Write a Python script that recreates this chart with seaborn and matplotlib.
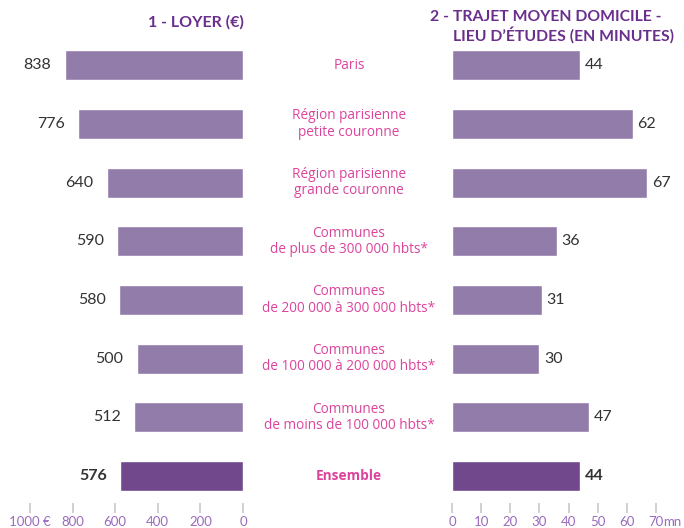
import matplotlib
matplotlib.use("Agg")
import matplotlib.pyplot as plt
import matplotlib.transforms as mtransforms
import pandas as pd
import seaborn as sns

categories = [
    "Paris",
    "Région parisienne\npetite couronne",
    "Région parisienne\ngrande couronne",
    "Communes\nde plus de 300 000 hbts*",
    "Communes\nde 200 000 à 300 000 hbts*",
    "Communes\nde 100 000 à 200 000 hbts*",
    "Communes\nde moins de 100 000 hbts*",
    "Ensemble",
]
loyer = [838, 776, 640, 590, 580, 500, 512, 576]
trajet = [44, 62, 67, 36, 31, 30, 47, 44]
loyer_ticks = [1000, 800, 600, 400, 200, 0]
loyer_ticklabels = ["1000 €", "800", "600", "400", "200", "0"]
trajet_ticks = [0, 10, 20, 30, 40, 50, 60, 70]
trajet_ticklabels = ["0", "10", "20", "30", "40", "50", "60", "70"]

df = pd.DataFrame({"cat": categories, "loyer": loyer, "trajet": trajet})

sns.set_theme(style="white")
plt.rcParams["font.family"] = ["Lato", "DejaVu Sans"]

bar_c = "#9175b2"
total_c = "#733c98"
title_c = "#6a2e8c"
cat_c = "#dc449c"
tick_c = "#9a6cbc"
num_c = "#333333"
palette = [bar_c] * 7 + [total_c]

fig = plt.figure(figsize=(6.84, 5.28), dpi=100)
W, H = 684, 528
top_px, bot_px = 36, 503
bottom = 1 - bot_px / H
height = (bot_px - top_px) / H
ax1 = fig.add_axes([30 / W, bottom, 213 / W, height])
ax2 = fig.add_axes([452 / W, bottom, 204 / W, height])

sns.barplot(data=df, x="loyer", y="cat", hue="cat", palette=palette,
            legend=False, orient="h", width=0.51, ax=ax1)
sns.barplot(data=df, x="trajet", y="cat", hue="cat", palette=palette,
            legend=False, orient="h", width=0.51, ax=ax2)

ax1.set_xlim(1000, 0)
ax2.set_xlim(0, 70)
for ax, ticks, labels in [(ax1, loyer_ticks, loyer_ticklabels),
                          (ax2, trajet_ticks, trajet_ticklabels)]:
    ax.set_ylim(7.46, -0.5)
    ax.set_xticks(ticks)
    ax.set_xticklabels(labels)
    ax.set_yticks([])
    ax.set_xlabel("")
    ax.set_ylabel("")
    sns.despine(ax=ax, left=True, bottom=True)
    ax.tick_params(axis="x", bottom=True, direction="out", length=7.5, width=1.2,
                   color="#c8c8c8", labelcolor=tick_c, labelsize=9.5, pad=1.5)
    for t in ax.xaxis.get_major_ticks():
        if t.get_loc() == 0:
            t.tick1line.set_color("#111111")

# "mn" unit after the last tick label of the right axis
ax2.annotate("mn", xy=(70, 0), xycoords=("data", "axes fraction"),
             xytext=(5.3, -9), textcoords="offset points", ha="left", va="top",
             fontsize=9.5, color=tick_c, annotation_clip=False)

# value labels
for i, v in enumerate(loyer):
    bold = i == len(loyer) - 1
    ax1.text(v + 62, i, str(v), ha="right", va="center", fontsize=11.5,
             color=num_c, fontweight="bold" if bold else "normal")
for i, v in enumerate(trajet):
    bold = i == len(trajet) - 1
    ax2.text(v + 1.5, i, str(v), ha="left", va="center", fontsize=11.5,
             color=num_c, fontweight="bold" if bold else "normal")

# category labels in the middle
trans = mtransforms.blended_transform_factory(fig.transFigure, ax1.transData)
for i, c in enumerate(categories):
    bold = i == len(categories) - 1
    ax1.text(349 / W, i, c, transform=trans, ha="center", va="center",
             fontsize=9.8, color=cat_c, linespacing=1.1,
             family=["Open Sans", "DejaVu Sans"],
             fontweight="bold" if bold else "normal")

fig.text(244 / W, 1 - 22 / H, "1 - LOYER (€)", ha="right", va="center",
         fontsize=11.5, fontweight="bold", color=title_c)
fig.text(430 / W, 1 - 17 / H, "2 - TRAJET MOYEN DOMICILE -", ha="left",
         va="center", fontsize=11.3, fontweight="bold", color=title_c)
fig.text(453 / W, 1 - 35 / H, "LIEU D’ÉTUDES (EN MINUTES)", ha="left",
         va="center", fontsize=11.3, fontweight="bold", color=title_c)

plt.savefig("out.png", dpi=100)
plt.close()
